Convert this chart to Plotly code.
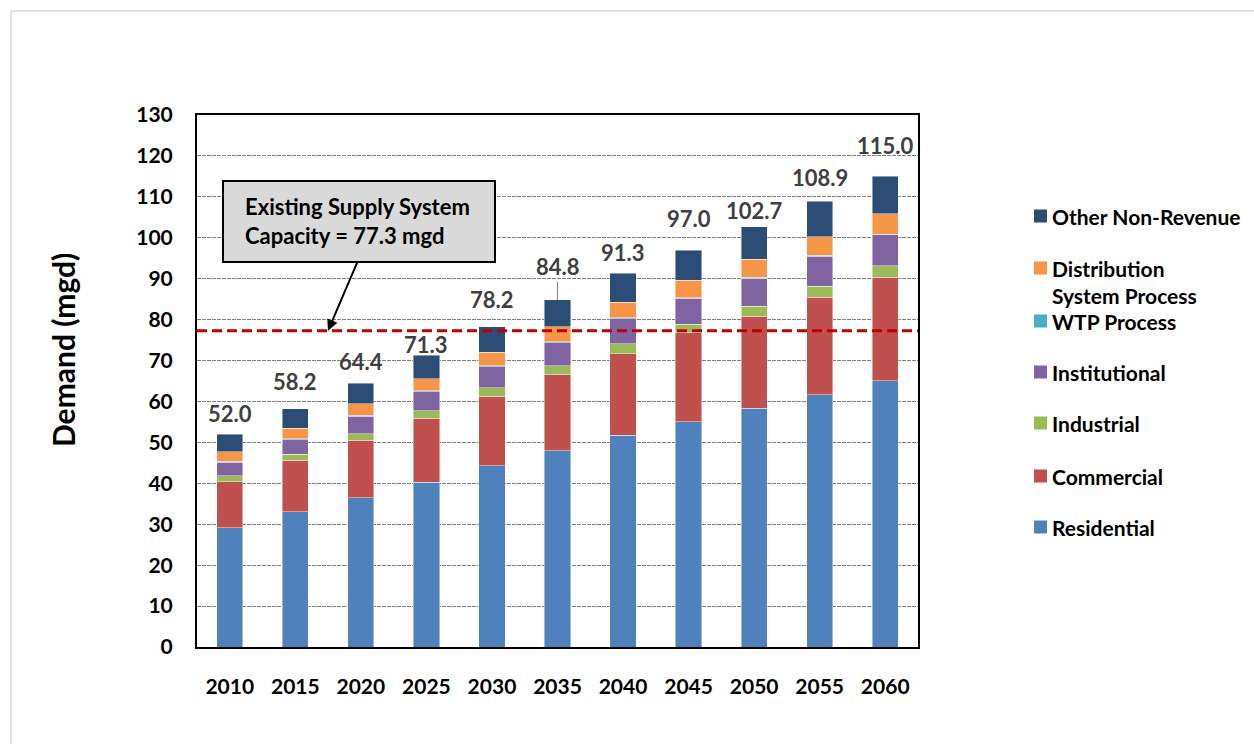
import plotly.graph_objects as go

# Projected water demand by category (mgd)
years = ["2010", "2015", "2020", "2025", "2030", "2035", "2040", "2045", "2050", "2055", "2060"]
residential = [29.2, 33.0, 36.5, 40.3, 44.3, 48.0, 51.7, 55.0, 58.3, 61.7, 65.1]
commercial = [11.2, 12.6, 14.0, 15.6, 17.0, 18.5, 20.0, 21.8, 22.5, 23.8, 25.2]
industrial = [1.5, 1.5, 1.6, 1.8, 2.0, 2.2, 2.4, 2.1, 2.5, 2.7, 2.9]
institutional = [3.3, 3.6, 4.3, 4.7, 5.2, 5.7, 6.1, 6.3, 6.8, 7.3, 7.5]
wtp_process = [0.2, 0.2, 0.2, 0.2, 0.2, 0.2, 0.2, 0.2, 0.2, 0.2, 0.2]
distribution = [2.3, 2.5, 2.8, 3.0, 3.3, 3.6, 3.9, 4.2, 4.4, 4.6, 5.0]
other_nonrev = [4.3, 4.8, 5.0, 5.7, 6.2, 6.6, 7.0, 7.4, 8.0, 8.6, 9.1]
supply_capacity = 77.3

series = [
    ("Residential", residential, "#4F81BD"),
    ("Commercial", commercial, "#C0504D"),
    ("Industrial", industrial, "#9BBB59"),
    ("Institutional", institutional, "#8064A2"),
    ("WTP Process", wtp_process, "#4BACC6"),
    ("Distribution System Process", distribution, "#F79646"),
    ("Other Non-Revenue", other_nonrev, "#2C4D75"),
]

totals = [round(sum(vals), 1) for vals in zip(*[s[1] for s in series])]

FONT = "Lato"
W, H = 1254, 744
L, R, T, B = 197, 918, 115, 647  # plot area in pixels


def px_x(x):
    return (x - L) / (R - L)


def px_y(y):
    return (B - y) / (B - T)


fig = go.Figure()
for name, vals, color in series:
    fig.add_trace(go.Bar(
        x=years, y=vals, name=name, width=0.4,
        marker=dict(color=color, line=dict(color="rgba(255,255,255,0.55)", width=0.8)),
        showlegend=False,
    ))

# total labels above each stack (pixel lift of the text centre)
label_lift = [21, 27, 22, 11, 27, 33, 21, 32, 16, 24, 31]
total_font = dict(family=FONT, size=22, color="#404040", weight="bold")
for i, (tot, lift) in enumerate(zip(totals, label_lift)):
    if i == 5:
        fig.add_annotation(
            xref="x", yref="y", x=i, y=tot, text=f"<b>{tot:.1f}</b>",
            showarrow=True, arrowhead=0, arrowwidth=1.2, arrowcolor="#8c8c8c",
            axref="pixel", ayref="pixel", ax=0, ay=-lift, standoff=0,
            font=total_font,
        )
    else:
        fig.add_annotation(
            xref="x", yref="y", x=i, y=tot, text=f"<b>{tot:.1f}</b>",
            showarrow=False, yshift=lift, yanchor="middle", xanchor="center",
            font=total_font,
        )

shapes = []
# outer frame
shapes.append(dict(type="rect", xref="paper", yref="paper",
                   x0=px_x(11), x1=px_x(1262), y0=px_y(752), y1=px_y(11),
                   line=dict(color="#d9d9d9", width=1.5), layer="below"))
# capacity line
shapes.append(dict(type="line", xref="paper", yref="y", x0=0, x1=1,
                   y0=supply_capacity, y1=supply_capacity,
                   line=dict(color="#C00000", width=3, dash="10px,5px"), layer="above"))
# callout box
shapes.append(dict(type="rect", xref="paper", yref="paper",
                   x0=px_x(223), x1=px_x(495), y0=px_y(262), y1=px_y(181),
                   fillcolor="#D9D9D9", line=dict(color="black", width=2), layer="above"))

for txt, yc in [("Existing Supply System", 206), ("Capacity = 77.3 mgd", 236)]:
    fig.add_annotation(xref="paper", yref="paper", x=px_x(243), y=px_y(yc),
                       xanchor="left", yanchor="middle", showarrow=False, text=txt,
                       font=dict(family=FONT, size=22, color="black", weight="bold"))

# arrow from callout to capacity line
fig.add_annotation(xref="paper", yref="y", x=px_x(328), y=supply_capacity, text="",
                   showarrow=True, arrowhead=2, arrowsize=1.1, arrowwidth=2,
                   arrowcolor="black", ax=30, ay=-70, standoff=0)

# legend drawn on the right
legend_rows = [
    ("Other Non-Revenue", "#2C4D75", 216, None),
    ("Distribution", "#F79646", 268, "System Process"),
    ("WTP Process", "#4BACC6", 321, None),
    ("Institutional", "#8064A2", 372, None),
    ("Industrial", "#9BBB59", 423, None),
    ("Commercial", "#C0504D", 476, None),
    ("Residential", "#4F81BD", 527, None),
]
legend_font = dict(family=FONT, size=21, color="black", weight="bold")
for label, color, yc, second in legend_rows:
    shapes.append(dict(type="rect", xref="paper", yref="paper",
                       x0=px_x(1034), x1=px_x(1047), y0=px_y(yc + 6.5), y1=px_y(yc - 6.5),
                       fillcolor=color, line=dict(width=0)))
    fig.add_annotation(xref="paper", yref="paper", x=px_x(1051), y=px_y(yc),
                       xanchor="left", yanchor="middle", showarrow=False, text=label,
                       font=legend_font, borderpad=0)
    if second:
        fig.add_annotation(xref="paper", yref="paper", x=px_x(1051), y=px_y(yc + 27),
                           xanchor="left", yanchor="middle", showarrow=False, text=second,
                           font=legend_font, borderpad=0)

# y-axis title
fig.add_annotation(xref="paper", yref="paper", x=px_x(63), y=px_y(350),
                   text="Demand (mgd)", textangle=-90, showarrow=False,
                   xanchor="center", yanchor="middle",
                   font=dict(family=FONT, size=30, color="black", weight="bold"))

fig.update_layout(
    width=W, height=H,
    margin=dict(l=L, r=W - R, t=T, b=H - B),
    barmode="stack", bargap=0.6,
    plot_bgcolor="white", paper_bgcolor="white",
    shapes=shapes,
    font=dict(family=FONT),
)
fig.update_xaxes(
    type="category", range=[-0.5, 10.5],
    showline=True, linecolor="black", linewidth=2, mirror=True,
    showgrid=False, ticks="", ticklabelstandoff=20,
    tickfont=dict(family=FONT, size=21, color="black", weight="bold"),
)
fig.update_yaxes(
    range=[0, 130], dtick=10,
    showline=True, linecolor="black", linewidth=2, mirror=True,
    showgrid=True, gridcolor="#808080", gridwidth=1.2, griddash="4px,1px",
    zeroline=False, ticks="", ticklabelstandoff=18,
    tickfont=dict(family=FONT, size=21, color="black", weight="bold"),
)

fig.write_html("out.html")
